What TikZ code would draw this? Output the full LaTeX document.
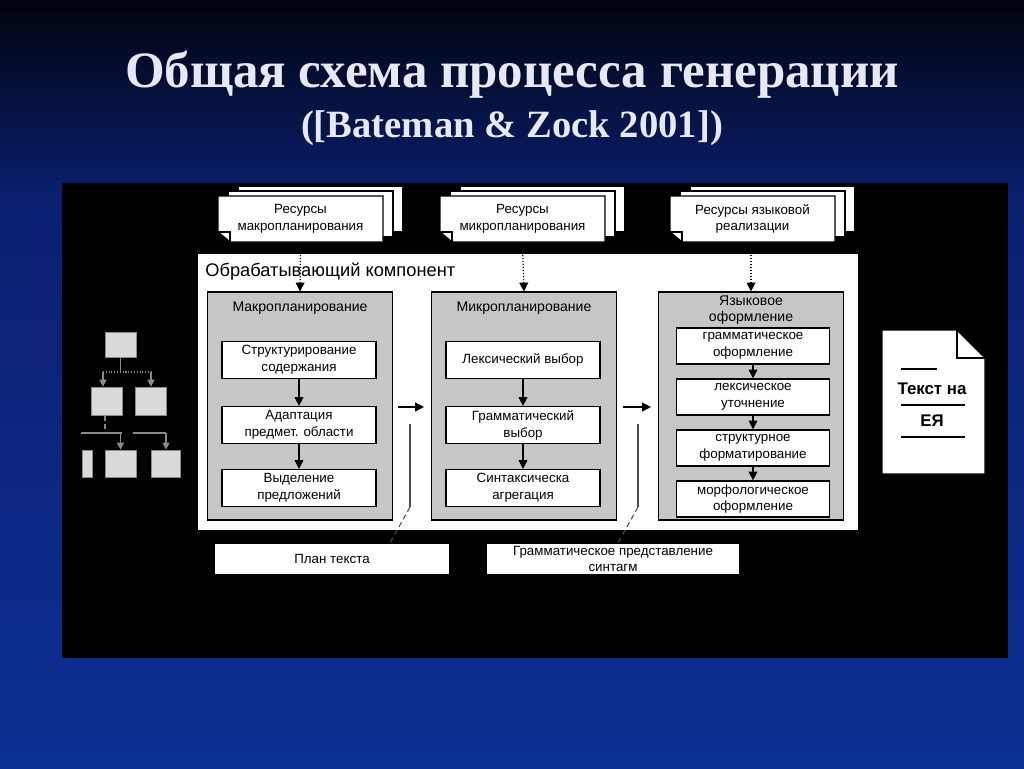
\documentclass[tikz,border=0pt]{standalone}
\usepackage{fontspec}
\setmainfont{Liberation Serif}
\newfontfamily\diagfont{Liberation Sans}
\usetikzlibrary{arrows.meta, positioning}

\definecolor{slidetop}{HTML}{01040E}
\definecolor{slidemid}{HTML}{0A1F70}
\definecolor{slidebot}{HTML}{0D3094}
\definecolor{modgray}{HTML}{C6C6C6}
\definecolor{titlefg}{HTML}{E6E8F4}
\definecolor{treegray}{HTML}{DADADA}
\definecolor{linegray}{HTML}{8A8A8A}

\tikzset{
  inbox/.style={draw=black, fill=white, line width=0.7pt, minimum width=3.08cm,
    minimum height=0.74cm, align=center, inner sep=0pt,
    font=\diagfont\fontsize{7.6}{9.6}\selectfont},
  modbox/.style={draw=black, fill=modgray, line width=0.7pt, minimum width=3.7cm,
    minimum height=4.56cm, inner sep=0pt},
  modlabel/.style={align=center, inner sep=0pt, font=\diagfont\fontsize{8}{9.2}\selectfont},
  sheet/.style={draw=black, fill=white, line width=0.8pt},
  restext/.style={align=center, inner sep=0pt, font=\diagfont\fontsize{7.6}{9.4}\selectfont},
  arr/.style={-{Triangle[width=5pt, length=5pt]}, line width=0.7pt},
  dotarr/.style={densely dotted, -{Triangle[width=5pt, length=5pt]}, line width=0.7pt},
  treebox/.style={draw=linegray, fill=treegray, inner sep=0pt},
  treearr/.style={linegray, line width=0.6pt, -{Triangle[width=4pt, length=4pt]}}
}

% stack of three sheets with a cut corner at the bottom left
\newcommand{\resstack}[4]{%
  \foreach \d in {20,10} {
    \fill[white, draw=black, line width=0.8pt] (#2+\d,#3-\d/2) rectangle ++(165,46);
  }
  \filldraw[sheet] (#2,#3) -- ++(165,0) -- ++(0,46) -- ++(-153,0) -- ++(-12,-10) -- cycle;
  \draw[line width=0.6pt] (#2,#3+36) -- ++(12,0) -- ++(0,10);
  \node[restext] (#1) at (#2+82.5,#3+23) {#4};
}

\begin{document}
\begin{tikzpicture}[x=0.02cm, y=-0.02cm]
\useasboundingbox (0,0) rectangle (1024,768);
\shade[top color=slidetop, bottom color=slidemid] (0,0) rectangle (1024,200);
\shade[top color=slidemid, bottom color=slidebot] (0,200) rectangle (1024,768);

% title
\node[text=titlefg, font=\fontsize{29}{33}\selectfont\bfseries] (title) at (512,75) {Общая схема процесса генерации};
\node[text=titlefg, font=\fontsize{22}{26}\selectfont\bfseries] (subtitle) at (512,128) {([Bateman \& Zock 2001])};

% black panel
\fill[black] (62,183) rectangle (1008,658);

% resources
\resstack{resmacro}{218}{196}{Ресурсы\\макропланирования}
\resstack{resmicro}{440}{196}{Ресурсы\\микропланирования}
\resstack{reslang}{670}{196}{Ресурсы языковой\\реализации}

% processing component
\fill[white] (198,254) rectangle (858,530);
\node[anchor=west, inner sep=0pt, font=\diagfont\fontsize{10.4}{12}\selectfont] (proclabel) at (205,272) {Обрабатывающий компонент};

% modules
\node[modbox] (macro) at (300,406) {};
\node[modbox] (micro) at (524,406) {};
\node[modbox] (lang) at (751,406) {};
\node[modlabel] (macrolabel) at (300,308) {Макропланирование};
\node[modlabel] (microlabel) at (524,308) {Микропланирование};
\node[modlabel] (langlabel) at (751,310) {Языковое\\оформление};

\draw[dotarr] (resmacro.south |- 0,246) -- (macro.north);
\draw[dotarr] (resmicro.south |- 0,246) -- (micro.north);
\draw[dotarr] (lang.north |- 0,246) -- (lang.north);

% macroplanning
\node[inbox] (struct) at (299,360) {Структурирование\\содержания};
\node[inbox] (adapt) at (299,425) {Адаптация\\предмет. области};
\node[inbox] (select) at (299,488) {Выделение\\предложений};
\draw[arr] (struct) -- (adapt);
\draw[arr] (adapt) -- (select);

% microplanning
\node[inbox] (lexsel) at (523,360) {Лексический выбор};
\node[inbox] (gramsel) at (523,425) {Грамматический\\выбор};
\node[inbox] (aggr) at (523,488) {Синтаксическа\\агрегация};
\draw[arr] (lexsel) -- (gramsel);
\draw[arr] (gramsel) -- (aggr);

% surface realization
\node[inbox, minimum width=3.06cm, minimum height=0.72cm] (gramform) at (753,346) {грамматическое\\оформление};
\node[inbox, minimum width=3.06cm, minimum height=0.72cm] (lexref) at (753,397) {лексическое\\уточнение};
\node[inbox, minimum width=3.06cm, minimum height=0.72cm] (structfmt) at (753,448) {структурное\\форматирование};
\node[inbox, minimum width=3.06cm, minimum height=0.72cm] (morph) at (753,499) {морфологическое\\оформление};
\draw[arr] (gramform) -- (lexref);
\draw[arr] (lexref) -- (structfmt);
\draw[arr] (structfmt) -- (morph);

% flow between modules and intermediate results
\coordinate (flowa) at (398,407);
\coordinate (flowb) at (424,407);
\coordinate (flowc) at (623,407);
\coordinate (flowd) at (651,407);
\draw[arr] (flowa) -- (flowb);
\draw[arr] (flowc) -- (flowd);

\node[inbox, minimum width=4.7cm, minimum height=0.62cm] (plan) at (332,559) {План текста};
\node[inbox, minimum width=5.08cm, minimum height=0.62cm] (gramrep) at (613,559) {Грамматическое представление\\синтагм};

\coordinate (tapa) at (410,424);
\coordinate (tapb) at (410,507);
\coordinate (tapc) at (638,424);
\coordinate (tapd) at (638,507);
\draw[black!70, line width=0.6pt] (tapa) -- (tapb);
\draw[black!70, line width=0.6pt, densely dashed] (tapb) -- (plan.north east -| 390,0);
\draw[black!70, line width=0.6pt] (tapc) -- (tapd);
\draw[black!70, line width=0.6pt, densely dashed] (tapd) -- (gramrep.north -| 618,0);

% output text document
\filldraw[sheet] (882,330) -- (957,330) -- (985,358) -- (985,474) -- (882,474) -- cycle;
\draw[line width=0.8pt] (957,330) -- (957,358) -- (985,358);
\node[inner sep=0pt, font=\diagfont\bfseries\fontsize{9.6}{11}\selectfont] (textnl) at (932,389) {Текст на};
\node[inner sep=0pt, font=\diagfont\bfseries\fontsize{9.6}{11}\selectfont] (nlname) at (932,421) {ЕЯ};
\draw[line width=0.8pt] (901,369) -- (937,369);
\draw[line width=0.8pt] (901,405) -- (965,405);
\draw[line width=0.8pt] (901,437) -- (965,437);

% input tree
\node[treebox, minimum width=0.62cm, minimum height=0.5cm] (troot) at (120.5,344.5) {};
\node[treebox, minimum width=0.62cm, minimum height=0.56cm] (tleft) at (106.5,401) {};
\node[treebox, minimum width=0.62cm, minimum height=0.56cm] (tright) at (150.5,401) {};
\node[treebox, minimum width=0.2cm, minimum height=0.54cm] (tleafa) at (87,463.5) {};
\node[treebox, minimum width=0.62cm, minimum height=0.54cm] (tleafb) at (120.5,463.5) {};
\node[treebox, minimum width=0.58cm, minimum height=0.54cm] (tleafc) at (165.5,463.5) {};
\coordinate (tjoin) at (120.5,372);
\draw[linegray, line width=0.6pt] (troot) -- (tjoin);
\draw[linegray, line width=0.6pt, densely dotted] (103,372) -- (151,372);
\draw[treearr] (103,372) -- (tleft.north -| 103,0);
\draw[treearr] (151,372) -- (tright.north -| 151,0);
\draw[linegray, line width=0.6pt, densely dashed] (tleft.south -| 105,0) -- (105,433);
\draw[linegray, line width=0.6pt] (81,433) -- (122,433);
\draw[linegray, line width=0.6pt] (133,433) -- (166,433);
\draw[treearr] (120.5,433) -- (tleafb);
\draw[treearr] (166,433) -- (tleafc.north -| 166,0);
\end{tikzpicture}
\end{document}
